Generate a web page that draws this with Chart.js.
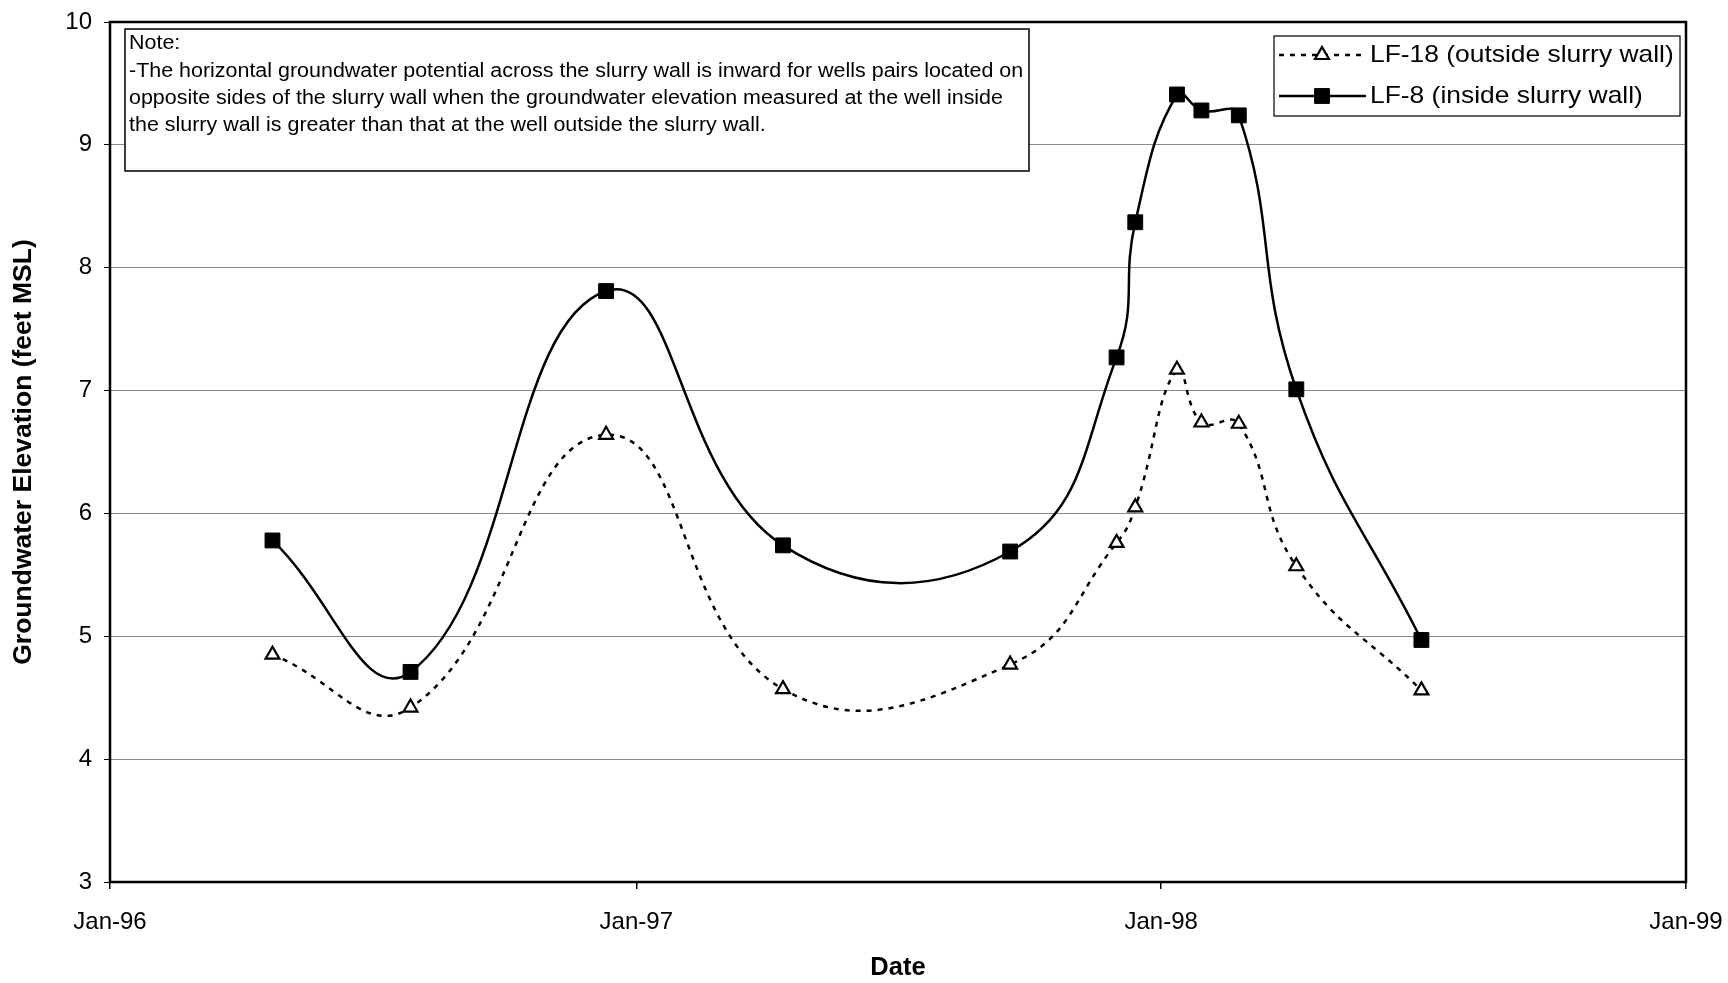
<!DOCTYPE html>
<html><head><meta charset="utf-8">
<script src="https://cdn.jsdelivr.net/npm/chart.js@4.4.1/dist/chart.umd.min.js"></script>
<style>html,body{margin:0;padding:0;background:#fff;overflow:hidden}canvas{display:block}</style>
</head><body>
<canvas id="c" width="1728" height="983"></canvas>
<script>
// ---- data ----
const sampleDates = ['1996-04-23','1996-07-28','1996-12-11','1997-04-13','1997-09-18','1997-12-01','1997-12-14','1998-01-12','1998-01-29','1998-02-24','1998-04-05','1998-07-01'];
const lf18Values = [4.85, 4.42, 6.64, 4.57, 4.77, 5.76, 6.05, 7.17, 6.74, 6.73, 5.57, 4.56];
const lf8Values  = [5.78, 4.71, 7.81, 5.74, 5.69, 7.27, 8.37, 9.41, 9.28, 9.24, 7.01, 4.97];
const yearTickDates = ['1996-01-01','1997-01-01','1998-01-01','1999-01-01'];
const yearTickLabels = ['Jan-96','Jan-97','Jan-98','Jan-99'];
const seriesLabels = ['LF-18 (outside slurry wall)','LF-8 (inside slurry wall)'];
const noteLines = [
  'Note:',
  '-The horizontal groundwater potential across the slurry wall is inward for wells pairs located on',
  'opposite sides of the slurry wall when the groundwater elevation measured at the well inside',
  'the slurry wall is greater than that at the well outside the slurry wall.'
];
const yTitle = 'Groundwater Elevation (feet MSL)';
const xTitle = 'Date';

const FONT = '"Liberation Sans", Arial, sans-serif';
const toMs = d => Date.parse(d + 'T00:00:00Z');
const pts = vals => sampleDates.map((d, i) => ({x: toMs(d), y: vals[i]}));

function fillStretched(ctx, text, x, y, sx) {
  ctx.save();
  ctx.translate(x, y);
  ctx.scale(sx, 1);
  ctx.fillText(text, 0, 0);
  ctx.restore();
}

const framePlugin = {
  id: 'frameAndBoxes',
  afterDraw(chart) {
    const ctx = chart.ctx;
    const a = chart.chartArea;
    ctx.save();
    // plot frame
    ctx.strokeStyle = '#000';
    ctx.lineWidth = 2.5;
    ctx.strokeRect(a.left, a.top, a.right - a.left, a.bottom - a.top);

    // note box
    ctx.fillStyle = '#fff';
    ctx.fillRect(125, 29, 904, 142);
    ctx.lineWidth = 1.5;
    ctx.strokeRect(125, 29, 904, 142);
    ctx.fillStyle = '#000';
    ctx.font = '19.5px ' + FONT;
    ctx.textBaseline = 'middle';
    ctx.textAlign = 'left';
    noteLines.forEach((t, i) => fillStretched(ctx, t, 129, 44 + i * 27.3, 1.1));

    // legend box
    ctx.fillStyle = '#fff';
    ctx.fillRect(1274, 36, 406, 80);
    ctx.lineWidth = 1.2;
    ctx.strokeStyle = '#000';
    ctx.strokeRect(1274, 36, 406, 80);
    const rows = [55, 96];
    chart.data.datasets.forEach((ds, i) => {
      const y = rows[i];
      ctx.save();
      ctx.strokeStyle = '#000';
      ctx.lineWidth = ds.borderWidth;
      ctx.setLineDash(ds.borderDash || []);
      ctx.beginPath();
      ctx.moveTo(1279, y); ctx.lineTo(1366, y);
      ctx.stroke();
      ctx.restore();
      ctx.save();
      ctx.fillStyle = ds.pointBackgroundColor;
      ctx.strokeStyle = ds.pointBorderColor;
      ctx.lineWidth = ds.pointBorderWidth;
      Chart.helpers.drawPoint(ctx, {pointStyle: ds.pointStyle, radius: ds.pointRadius, borderWidth: ds.pointBorderWidth, rotation: 0}, 1322, y);
      ctx.restore();
      ctx.fillStyle = '#000';
      ctx.font = '24px ' + FONT;
      ctx.textBaseline = 'middle';
      fillStretched(ctx, ds.label, 1370, y, 1.1);
    });
    ctx.restore();
  }
};

new Chart(document.getElementById('c'), {
  type: 'line',
  data: {
    datasets: [
      {
        label: seriesLabels[0],
        data: pts(lf18Values),
        borderColor: '#000',
        borderWidth: 2.5,
        borderDash: [5, 6],
        tension: 0.45,
        pointStyle: 'triangle',
        pointRadius: 8,
        pointBackgroundColor: '#fff',
        pointBorderColor: '#000',
        pointBorderWidth: 2.2
      },
      {
        label: seriesLabels[1],
        data: pts(lf8Values),
        borderColor: '#000',
        borderWidth: 2.5,
        tension: 0.45,
        pointStyle: 'rect',
        pointRadius: 10.5,
        pointBackgroundColor: '#000',
        pointBorderColor: '#000',
        pointBorderWidth: 1
      }
    ]
  },
  options: {
    responsive: false,
    animation: false,
    events: [],
    layout: {padding: {top: 22, right: 42, left: 0, bottom: 0}},
    plugins: {legend: {display: false}, tooltip: {enabled: false}},
    scales: {
      x: {
        type: 'linear',
        min: toMs(yearTickDates[0]),
        max: toMs(yearTickDates[yearTickDates.length - 1]),
        afterBuildTicks: s => { s.ticks = yearTickDates.map(d => ({value: toMs(d)})); },
        afterFit: s => { s.height = 101; s.paddingLeft = 0; s.paddingRight = 0; },
        grid: {drawOnChartArea: false, drawTicks: true, tickLength: 7, color: '#000', lineWidth: 1.5},
        border: {display: false},
        ticks: {
          padding: 19,
          maxRotation: 0,
          autoSkip: false,
          color: '#000',
          font: {family: FONT, size: 24},
          callback: v => yearTickLabels[yearTickDates.map(toMs).indexOf(v)]
        },
        title: {display: true, text: xTitle, color: '#000', font: {family: FONT, size: 25.5, weight: 'bold'}, padding: {top: 0, bottom: 0}}
      },
      y: {
        min: 3,
        max: 10,
        afterFit: s => { s.width = 110; s.paddingTop = 0; s.paddingBottom = 0; },
        grid: {color: '#8a8a8a', lineWidth: 1, drawTicks: true, tickLength: 6, tickColor: '#000'},
        border: {display: false},
        ticks: {
          stepSize: 1,
          padding: 12,
          color: '#000',
          font: {family: FONT, size: 24}
        },
        title: {display: true, text: yTitle, color: '#000', font: {family: FONT, size: 26.5, weight: 'bold'}, padding: {top: 8, bottom: 0}}
      }
    }
  },
  plugins: [framePlugin]
});
</script>
</body></html>
